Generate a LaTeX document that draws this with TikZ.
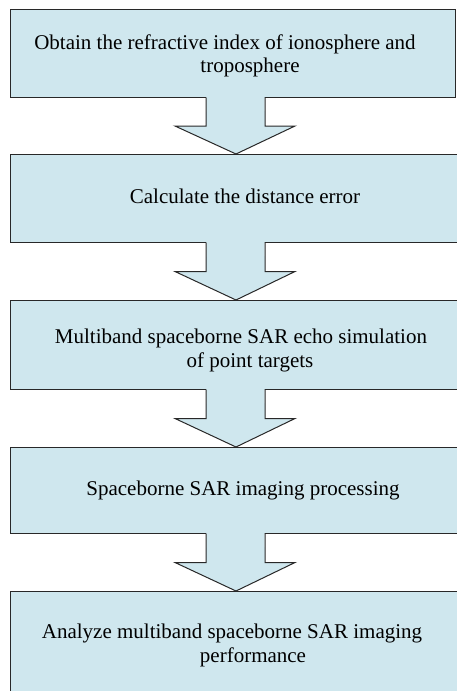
\documentclass[tikz,border=0pt]{standalone}
\usepackage{fontspec}
\setmainfont{Liberation Serif}
\usetikzlibrary{calc}
\definecolor{boxfill}{RGB}{207,231,238}
\definecolor{edge}{RGB}{40,40,40}
\tikzset{
  stagebox/.style={draw=edge, line width=1pt, fill=boxfill, rectangle,
    anchor=north west, inner sep=0pt},
  stagetext/.style={anchor=base, inner sep=0pt, font=\fontsize{21}{24}\selectfont},
  flowline/.style={draw=edge, line width=1pt, line join=miter},
}
% block arrow from the bottom of box #1 to the top of box #2
\newcommand\blockarrow[2]{%
  \path let \p1=(#1.south west), \p2=(#2.north west),
            \p3=($(#1.south)!0.5!(#2.north)$) in
    [fill=boxfill] (\x1+196.5pt,\y1+1.2pt) -- (\x1+196pt,\y3) -- (\x1+165pt,\y3)
      -- (\x1+226pt,\y2) -- (\x1+285pt,\y3) -- (\x1+255pt,\y3)
      -- (\x1+254.5pt,\y1+1.2pt);
  \path let \p1=(#1.south west), \p2=(#2.north west),
            \p3=($(#1.south)!0.5!(#2.north)$) in
    [flowline] (\x1+196pt,\y1) -- (\x1+196pt,\y3) -- (\x1+165pt,\y3)
      -- (\x1+226pt,\y2) -- (\x1+285pt,\y3) -- (\x1+255pt,\y3)
      -- (\x1+255pt,\y1);
}
\begin{document}
\begin{tikzpicture}[x=1pt,y=-1pt]
\useasboundingbox (0,0) rectangle (457,691);
\fill[white] (0,0) rectangle (457,691);

% process boxes
\node[stagebox, minimum width=445pt, minimum height=88pt] (b1) at (10,9) {};
\node[stagebox, minimum width=452pt, minimum height=88pt] (b2) at (10,154) {};
\node[stagebox, minimum width=452pt, minimum height=89pt] (b3) at (10,300) {};
\node[stagebox, minimum width=452pt, minimum height=86pt] (b4) at (10,447) {};
\node[stagebox, minimum width=452pt, minimum height=110pt] (b5) at (10,591) {};

% arrows between the steps
\blockarrow{b1}{b2}
\blockarrow{b2}{b3}
\blockarrow{b3}{b4}
\blockarrow{b4}{b5}

% step texts
\node[stagetext] (t1a) at (225,49) {Obtain the refractive index of ionosphere and};
\node[stagetext] (t1b) at (250,72) {troposphere};
\node[stagetext] (t2) at (245,203) {Calculate the distance error};
\node[stagetext] (t3a) at (241,343) {Multiband spaceborne SAR echo simulation};
\node[stagetext] (t3b) at (250,367) {of point targets};
\node[stagetext] (t4) at (243,495) {Spaceborne SAR imaging processing};
\node[stagetext] (t5a) at (232,638) {Analyze multiband spaceborne SAR imaging};
\node[stagetext] (t5b) at (253,662) {performance};
\end{tikzpicture}
\end{document}
